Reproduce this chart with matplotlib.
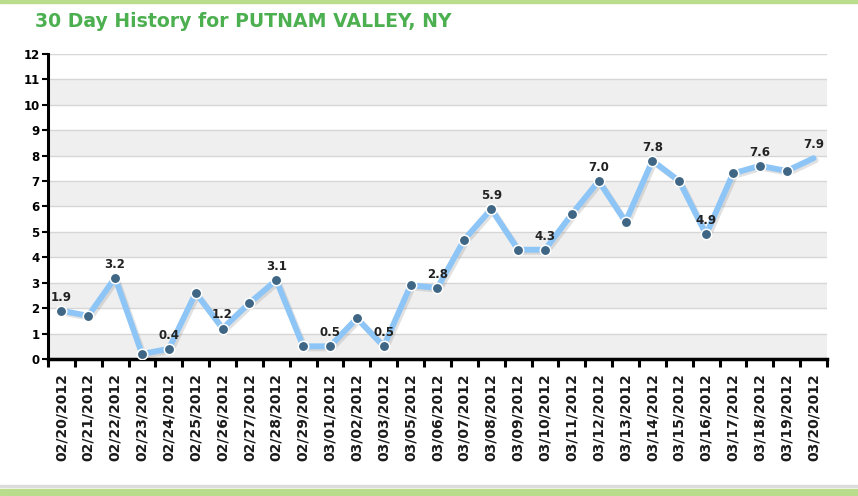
import numpy as np
import matplotlib
matplotlib.use("Agg")
import matplotlib.pyplot as plt
import matplotlib.patheffects as pe
from matplotlib.patches import Rectangle

# ── Data ────────────────────────────────────────────────────────────────────
dates = [
    "02/20/2012", "02/21/2012", "02/22/2012", "02/23/2012", "02/24/2012",
    "02/25/2012", "02/26/2012", "02/27/2012", "02/28/2012", "02/29/2012",
    "03/01/2012", "03/02/2012", "03/03/2012", "03/05/2012", "03/06/2012",
    "03/07/2012", "03/08/2012", "03/09/2012", "03/10/2012", "03/11/2012",
    "03/12/2012", "03/13/2012", "03/14/2012", "03/15/2012", "03/16/2012",
    "03/17/2012", "03/18/2012", "03/19/2012", "03/20/2012",
]
values = [
    1.9, 1.7, 3.2, 0.2, 0.4, 2.6, 1.2, 2.2, 3.1, 0.5,
    0.5, 1.6, 0.5, 2.9, 2.8, 4.7, 5.9, 4.3, 4.3, 5.7,
    7.0, 5.4, 7.8, 7.0, 4.9, 7.3, 7.6, 7.4, 7.9,
]
y_ticks = list(range(0, 13))

# ── Plot ─────────────────────────────────────────────────────────────────────
fig = plt.figure(figsize=(8.58, 4.96), dpi=100)
ax = fig.add_axes([0.0559, 0.2762, 0.908, 0.615])

n = len(values)
x = np.arange(n)

# alternating background bands
for k in range(12):
    if k % 2 == 0:
        ax.axhspan(k, k + 1, color="#efefef", zorder=0, lw=0)
for t in y_ticks[1:]:
    ax.axhline(t, color="#d6d6d6", lw=1.0, zorder=1)

line_color = "#8ec5f7"
ax.plot(x, values, color=line_color, lw=4.2, solid_capstyle="round", zorder=3,
        path_effects=[pe.SimpleLineShadow(offset=(1.5, -1.5), shadow_color="#888888", alpha=0.25),
                      pe.Normal()])
ax.plot(x[:-1], values[:-1], ls="none", marker="o", ms=7.5, mfc="#3f6684",
        mec="white", mew=1.1, zorder=4)

# value labels on every other point
for i in range(0, n, 2):
    ax.text(x[i], values[i] + 0.28, f"{values[i]:.1f}", ha="center", va="bottom",
            fontsize=8.5, fontweight="bold", color="#222222", zorder=5)

ax.set_xlim(-0.5, n - 0.5)
ax.set_ylim(0, 12)
ax.set_yticks(y_ticks)
ax.set_yticklabels([str(t) for t in y_ticks], fontsize=8.5, fontweight="bold")
ax.set_xticks(np.arange(-0.5, n, 1.0))
ax.set_xticklabels([])
ax.set_xticks(x, minor=True)
ax.set_xticklabels(dates, minor=True, rotation=90, fontsize=10, fontweight="bold",
                   color="#1a1a1a")
ax.tick_params(axis="x", which="major", length=6, width=2.2, color="black", direction="out")
ax.tick_params(axis="x", which="minor", length=0, pad=10)
ax.tick_params(axis="y", length=4, width=1.5, pad=2)

for s in ["top", "right"]:
    ax.spines[s].set_visible(False)
ax.spines["left"].set_linewidth(2.2)
ax.spines["bottom"].set_linewidth(2.5)

# title and page decoration
fig.text(0.041, 0.957, "30 Day History for PUTNAM VALLEY, NY", fontsize=13.6,
         fontweight="bold", color="#4caf50", ha="left", va="center")
fig.patches.append(Rectangle((0, 0.994), 1, 0.006, transform=fig.transFigure,
                             color="#b9dd8c", zorder=0))
fig.patches.append(Rectangle((0, 0.0), 1, 0.014, transform=fig.transFigure,
                             color="#b9dd8c", zorder=0))
fig.patches.append(Rectangle((0, 0.018), 1, 0.005, transform=fig.transFigure,
                             color="#dcdcdc", zorder=0))

fig.savefig("out.png", dpi=100)
